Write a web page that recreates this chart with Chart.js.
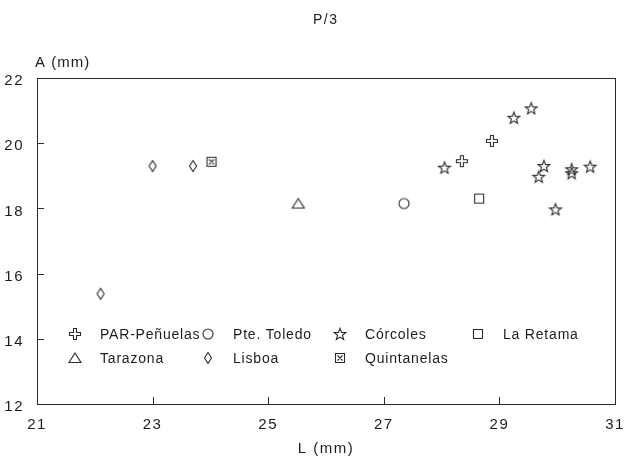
<!DOCTYPE html>
<html>
<head>
<meta charset="utf-8">
<script src="https://cdn.jsdelivr.net/npm/chart.js@4.4.1/dist/chart.umd.min.js"></script>
<style>
  html, body { margin: 0; padding: 0; background: #fff; }
  #wrap { width: 632px; height: 458px; }
</style>
</head>
<body>
<div id="wrap"><canvas id="c" width="632" height="458"></canvas></div>
<script>
// data (L and A in mm)
const parX = [28.35, 28.87];
const parY = [19.45, 20.07];
const toledoX = [27.35];
const toledoY = [18.15];
const corcolesX = [28.05, 29.25, 29.55, 29.77, 29.68, 30.25, 30.25, 30.57, 29.97];
const corcolesY = [19.25, 20.78, 21.07, 19.3, 18.97, 19.2, 19.08, 19.28, 17.97];
const retamaX = [28.65];
const retamaY = [18.3];
const tarazonaX = [25.52];
const tarazonaY = [18.15];
const lisboaX = [22.1, 23.0, 23.7];
const lisboaY = [15.38, 19.3, 19.3];
const quintX = [24.02];
const quintY = [19.43];

const xTicks = [21, 23, 25, 27, 29, 31];
const yTicks = [12, 14, 16, 18, 20, 22];

const INK = '#2a2a2a';
const TEXT = '#1c1c1c';
const FONT = '"Liberation Sans", Arial, sans-serif';

function marker(kind) {
  const cv = document.createElement('canvas');
  cv.width = 16; cv.height = 16;
  const g = cv.getContext('2d');
  g.strokeStyle = INK;
  g.lineWidth = 1.1;
  g.beginPath();
  if (kind === 'star') {
    for (let i = 0; i < 10; i++) {
      const r = i % 2 ? 2.6 : 6.2;
      const a = -Math.PI / 2 + i * Math.PI / 5;
      const px = 8 + r * Math.cos(a), py = 8.5 + r * Math.sin(a);
      i ? g.lineTo(px, py) : g.moveTo(px, py);
    }
    g.closePath();
  } else if (kind === 'plus') {
    const a = 1.5, b = 5.5;
    const pts = [[-a,-b],[a,-b],[a,-a],[b,-a],[b,a],[a,a],[a,b],[-a,b],[-a,a],[-b,a],[-b,-a],[-a,-a]];
    pts.forEach((p, i) => i ? g.lineTo(8 + p[0], 8 + p[1]) : g.moveTo(8 + p[0], 8 + p[1]));
    g.closePath();
  } else if (kind === 'circle') {
    g.arc(8, 8, 5, 0, Math.PI * 2);
  } else if (kind === 'square') {
    g.rect(3.5, 3.5, 9, 9);
  } else if (kind === 'triangle') {
    g.moveTo(8, 3); g.lineTo(14, 12.5); g.lineTo(2, 12.5); g.closePath();
  } else if (kind === 'diamond') {
    g.moveTo(8, 2.5); g.lineTo(11.5, 8); g.lineTo(8, 13.5); g.lineTo(4.5, 8); g.closePath();
  } else if (kind === 'boxx') {
    g.rect(3.5, 3.5, 9, 9);
    g.moveTo(5.5, 5.5); g.lineTo(10.5, 10.5);
    g.moveTo(10.5, 5.5); g.lineTo(5.5, 10.5);
  }
  g.stroke();
  return cv;
}

function pts(xs, ys) {
  return xs.map((x, i) => ({ x: x, y: ys[i] }));
}

const series = [
  { label: 'PAR-Peñuelas', xs: parX, ys: parY, kind: 'plus' },
  { label: 'Pte. Toledo', xs: toledoX, ys: toledoY, kind: 'circle' },
  { label: 'Córcoles', xs: corcolesX, ys: corcolesY, kind: 'star' },
  { label: 'La Retama', xs: retamaX, ys: retamaY, kind: 'square' },
  { label: 'Tarazona', xs: tarazonaX, ys: tarazonaY, kind: 'triangle' },
  { label: 'Lisboa', xs: lisboaX, ys: lisboaY, kind: 'diamond' },
  { label: 'Quintanelas', xs: quintX, ys: quintY, kind: 'boxx' }
];

const datasets = series.map(s => ({
  label: s.label,
  data: pts(s.xs, s.ys),
  pointStyle: marker(s.kind),
  pointRadius: 6,
  showLine: false
}));

// wider letter spacing like the printed figure
const spacing = {
  id: 'spacing',
  beforeDraw(chart) { chart.ctx.letterSpacing = '1.5px'; }
};

// box, inward ticks, legend inside the plot, free texts
const decor = {
  id: 'decor',
  afterDraw(chart) {
    const { ctx, chartArea: a, scales } = chart;
    ctx.save();
    ctx.strokeStyle = INK;
    ctx.lineWidth = 1;
    ctx.strokeRect(a.left + 0.5, a.top + 0.5, a.right - a.left, a.bottom - a.top);
    ctx.beginPath();
    xTicks.slice(1, -1).forEach(v => {
      const px = Math.round(scales.x.getPixelForValue(v)) + 0.5;
      ctx.moveTo(px, a.bottom); ctx.lineTo(px, a.bottom - 7);
    });
    yTicks.slice(1, -1).forEach(v => {
      const py = Math.round(scales.y.getPixelForValue(v)) + 0.5;
      ctx.moveTo(a.left, py); ctx.lineTo(a.left + 7, py);
    });
    ctx.stroke();

    ctx.fillStyle = TEXT;
    ctx.textBaseline = 'middle';
    ctx.letterSpacing = '1.5px';
    ctx.font = '14px ' + FONT;
    ctx.textAlign = 'left';
    ctx.fillText('P/3', 313, 20);
    ctx.font = '15px ' + FONT;
    ctx.letterSpacing = '1px';
    ctx.fillText('A (mm)', 35, 63);

    // legend
    const cols = [38, 171, 303, 441];
    const order = [[0, 1, 2, 3], [4, 5, 6]];
    ctx.font = '14px ' + FONT;
    ctx.letterSpacing = '0.8px';
    order.forEach((row, r) => {
      const py = a.top + 256 + r * 24;
      row.forEach((di, c) => {
        const ds = chart.data.datasets[di];
        const mx = a.left + cols[c];
        ctx.drawImage(ds.pointStyle, mx - 8, py - 8);
        ctx.fillText(ds.label, mx + 25, py + 1);
      });
    });
    ctx.restore();
  }
};

new Chart(document.getElementById('c'), {
  type: 'scatter',
  data: { datasets: datasets },
  plugins: [spacing, decor],
  options: {
    responsive: false,
    animation: false,
    layout: { padding: { top: 78, right: 17, left: 0, bottom: 0 } },
    plugins: {
      legend: { display: false },
      tooltip: { enabled: false }
    },
    scales: {
      x: {
        type: 'linear',
        min: 21, max: 31,
        afterBuildTicks: s => { s.ticks = xTicks.map(v => ({ value: v })); },
        afterFit: s => { s.height = 54; },
        grid: { display: false },
        border: { display: false },
        ticks: { color: TEXT, font: { family: FONT, size: 15 }, padding: 4, maxRotation: 0 },
        title: { display: true, text: 'L (mm)', color: TEXT, font: { family: FONT, size: 15 }, padding: { top: 0, bottom: 0 } }
      },
      y: {
        type: 'linear',
        min: 12, max: 22,
        afterBuildTicks: s => { s.ticks = yTicks.map(v => ({ value: v })); },
        afterFit: s => { s.width = 37; },
        grid: { display: false },
        border: { display: false },
        ticks: { color: TEXT, font: { family: FONT, size: 15 }, padding: 5, labelOffset: 3 }
      }
    }
  }
});
</script>
</body>
</html>
